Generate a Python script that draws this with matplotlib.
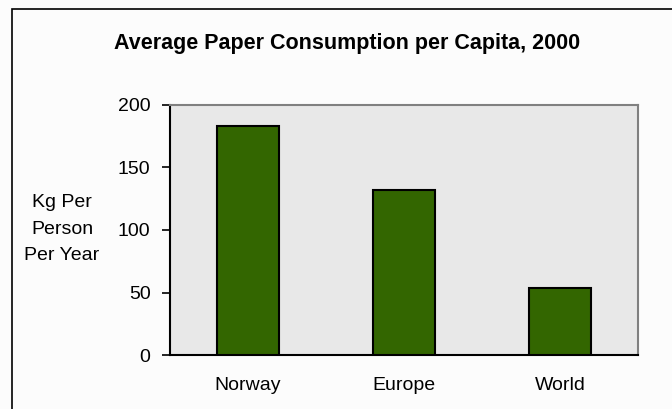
import numpy as np
import matplotlib
matplotlib.use('Agg')
import matplotlib.pyplot as plt
from matplotlib.patches import Rectangle

regions = ['Norway', 'Europe', 'World']
kg_per_person = [183, 132, 54]
y_ticks = [0, 50, 100, 150, 200]

plt.rcParams['font.family'] = ['Liberation Sans', 'DejaVu Sans']

fig = plt.figure(figsize=(6.72, 4.09), dpi=100, facecolor='#fcfcfc')
ax = fig.add_axes([170/672, 54/409, 468/672, 250/409])
ax.set_facecolor('#e8e8e8')

x = np.arange(len(regions))
ax.bar(x, kg_per_person, width=0.4, color='#336600', edgecolor='black', linewidth=1.5, zorder=3)

ax.set_xlim(-0.5, len(regions) - 0.5)
ax.set_ylim(0, 200)
ax.set_yticks(y_ticks)
ax.set_yticklabels([str(v) for v in y_ticks], fontsize=14)
ax.set_xticks(x)
ax.set_xticklabels(regions, fontsize=14)
ax.tick_params(axis='x', length=0, pad=16)
ax.tick_params(axis='y', length=6, width=1.2, direction='out', pad=8)

for side in ['top', 'right']:
    ax.spines[side].set_color('#808080')
    ax.spines[side].set_linewidth(1.5)
for side in ['left', 'bottom']:
    ax.spines[side].set_color('black')
    ax.spines[side].set_linewidth(1.5)

fig.text(347/672, 1 - 44/409, 'Average Paper Consumption per Capita, 2000',
         ha='center', va='center', fontsize=15.5, fontweight='bold')
fig.text(62/672, 1 - 229/409, 'Kg Per\nPerson\nPer Year', ha='center', va='center',
         fontsize=14, linespacing=1.75)

# outer chart border
fig.patches.append(Rectangle((12/672, -0.1), 1.2, 1.1 - 9/409, transform=fig.transFigure,
                             fill=False, edgecolor='black', linewidth=1.2))

fig.savefig('out.png', dpi=100, facecolor=fig.get_facecolor())
